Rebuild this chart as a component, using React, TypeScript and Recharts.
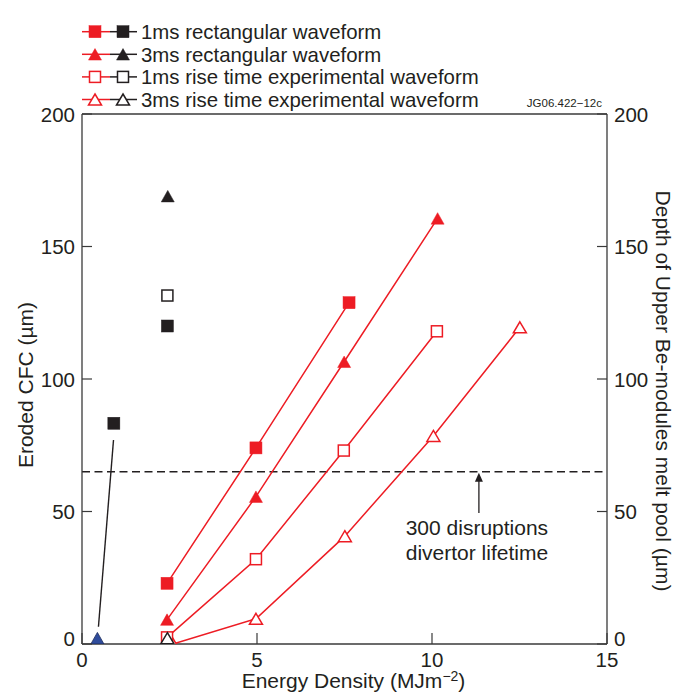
import React from "react";
import {
  ComposedChart,
  Scatter,
  XAxis,
  YAxis,
  ReferenceLine,
} from "recharts";

const RED = "#ed1c24";
const INK = "#231f20";
const BLUE = "#2f4c9c";
const AXIS = "#3a3a3a";
const FONT = '"Liberation Sans", Arial, Helvetica, sans-serif';

// energy density (MJ/m2) vs eroded CFC (um)
const rect1ms = [
  { x: 2.43, y: 22.9 },
  { x: 4.97, y: 74 },
  { x: 7.63, y: 128.8 },
];
const rect3ms = [
  { x: 2.43, y: 9.2 },
  { x: 4.97, y: 55.6 },
  { x: 7.49, y: 106.5 },
  { x: 10.16, y: 160.6 },
];
const rise1ms = [
  { x: 2.43, y: 2.5 },
  { x: 4.97, y: 32 },
  { x: 7.48, y: 73 },
  { x: 10.14, y: 118 },
];
const rise3ms = [
  { x: 2.6, y: 0 },
  { x: 4.97, y: 9.5 },
  { x: 7.51, y: 40.7 },
  { x: 10.04, y: 78.5 },
  { x: 12.51, y: 119.5 },
];

// black / blue reference points
const blackSquares = [
  { x: 0.91, y: 83.3 },
  { x: 2.44, y: 120 },
];
const blackOpenSquares = [{ x: 2.44, y: 131.5 }];
const blackTriangles = [{ x: 2.45, y: 169 }];
const blackOpenTriangles = [{ x: 2.44, y: 2.2 }];
const blueTriangles = [{ x: 0.44, y: 2.2 }];
const connector = [
  { x: 0.47, y: 6.5 },
  { x: 0.9, y: 77 },
];

const LIFETIME = 65;
const arrowSeg = [
  { x: 11.34, y: 49.4 },
  { x: 11.34, y: LIFETIME },
];

const xTicks = [0, 5, 10, 15];
const yTicks = [0, 50, 100, 150, 200];

const legendLabels = [
  "1ms rectangular waveform",
  "3ms rectangular waveform",
  "1ms rise time experimental waveform",
  "3ms rise time experimental waveform",
];
const legendKinds = ["square", "triangle", "openSquare", "openTriangle"];

const TICK_GAP = 7;
const TICK_LEN = 10;
const TICK_FONT = 20.5;
const TITLE_FONT = 21;

const marker = (kind: string, cx: number, cy: number, color: string, key?: string) => {
  const open = kind.startsWith("open");
  const fill = open ? "#fff" : color;
  if (kind.toLowerCase().includes("square")) {
    const s = open ? 11 : 12;
    return (
      <rect
        key={key}
        x={cx - s / 2}
        y={cy - s / 2}
        width={s}
        height={s}
        fill={fill}
        stroke={color}
        strokeWidth={open ? 1.5 : 0.5}
      />
    );
  }
  const h = open ? 11 : 11.5;
  const w = 6.5;
  return (
    <polygon
      key={key}
      points={`${cx},${cy - h / 2} ${cx + w},${cy + h / 2} ${cx - w},${cy + h / 2}`}
      fill={fill}
      stroke={color}
      strokeWidth={open ? 1.5 : 0.5}
    />
  );
};

const shapeOf = (kind: string, color: string, outline?: string) => (p: any) => {
  if (p.cx == null || p.cy == null) return <g />;
  if (outline) {
    const h = 11.5;
    const w = 6.5;
    return (
      <polygon
        points={`${p.cx},${p.cy - h / 2} ${p.cx + w},${p.cy + h / 2} ${p.cx - w},${p.cy + h / 2}`}
        fill={color}
        stroke={outline}
        strokeWidth={0.8}
      />
    );
  }
  return marker(kind, p.cx, p.cy, color);
};

// zero labels sit a little above the baseline in the original
const labelY = (y: number, v: number) => (v === 0 ? y - 6 : y);

const LeftTick = (props: any) => {
  const { x, y, payload } = props;
  const ax = x + TICK_GAP;
  return (
    <g>
      <line x1={ax} x2={ax + TICK_LEN} y1={y} y2={y} stroke={AXIS} strokeWidth={1.2} />
      <text x={x} y={labelY(y, payload.value)} textAnchor="end" dominantBaseline="central" fontSize={TICK_FONT} fill={INK} fontFamily={FONT}>
        {payload.value}
      </text>
    </g>
  );
};

const RightTick = (props: any) => {
  const { x, y, payload } = props;
  const ax = x - TICK_GAP;
  return (
    <g>
      <line x1={ax} x2={ax - TICK_LEN} y1={y} y2={y} stroke={AXIS} strokeWidth={1.2} />
      <text x={x} y={labelY(y, payload.value)} textAnchor="start" dominantBaseline="central" fontSize={TICK_FONT} fill={INK} fontFamily={FONT}>
        {payload.value}
      </text>
    </g>
  );
};

const BottomTick = (props: any) => {
  const { x, y, payload } = props;
  const ay = y - 8;
  return (
    <g>
      <line x1={x} x2={x} y1={ay} y2={ay - 11} stroke={AXIS} strokeWidth={1.2} />
      <text x={x} y={y + 15} textAnchor="middle" fontSize={TICK_FONT} fill={INK} fontFamily={FONT}>
        {payload.value}
      </text>
    </g>
  );
};

const XTitle = (props: any) => {
  const vb = props.viewBox || {};
  const cx = vb.x + vb.width / 2 + 9;
  return (
    <text x={cx} y={vb.y + 44} textAnchor="middle" fontSize={TITLE_FONT} fill={INK} fontFamily={FONT}>
      Energy Density (MJm
      <tspan dy={-7} fontSize={14}>−2</tspan>
      <tspan dy={7}>)</tspan>
    </text>
  );
};

const LeftTitle = (props: any) => {
  const vb = props.viewBox || {};
  const cx = 25;
  const cy = vb.y + vb.height / 2 + 6;
  return (
    <text
      x={cx}
      y={cy}
      transform={`rotate(-90 ${cx} ${cy})`}
      textAnchor="middle"
      dominantBaseline="central"
      fontSize={TITLE_FONT}
      fill={INK}
      fontFamily={FONT}
    >
      Eroded CFC (µm)
    </text>
  );
};

const RightTitle = (props: any) => {
  const vb = props.viewBox || {};
  const cx = 663;
  const cy = vb.y + vb.height / 2 + 12;
  return (
    <text
      x={cx}
      y={cy}
      transform={`rotate(90 ${cx} ${cy})`}
      textAnchor="middle"
      dominantBaseline="central"
      fontSize={TITLE_FONT}
      fill={INK}
      fontFamily={FONT}
    >
      Depth of Upper Be-modules melt pool (µm)
    </text>
  );
};

const Arrow = (p: any) => {
  const { x1, y1, x2, y2 } = p;
  const top = Math.min(y1, y2);
  const bottom = Math.max(y1, y2);
  const x = x1;
  return (
    <g>
      <line x1={x} x2={x2} y1={bottom} y2={top + 7} stroke={INK} strokeWidth={1.3} />
      <polygon points={`${x},${top + 1} ${x + 4},${top + 10} ${x - 4},${top + 10}`} fill={INK} />
      <text x={x - 2} y={bottom + 22} textAnchor="middle" fontSize={TITLE_FONT} fill={INK} fontFamily={FONT}>
        300 disruptions
      </text>
      <text x={x - 2} y={bottom + 47} textAnchor="middle" fontSize={TITLE_FONT} fill={INK} fontFamily={FONT}>
        divertor lifetime
      </text>
    </g>
  );
};

const TagLabel = (props: any) => {
  const vb = props.viewBox || {};
  return (
    <text x={vb.x + vb.width - 5} y={vb.y - 7} textAnchor="end" fontSize={11.5} fill={INK} fontFamily={FONT}>
      JG06.422−12c
    </text>
  );
};

const LegendBox = () => (
  <svg width={560} height={112} style={{ position: "absolute", left: 0, top: 0 }}>
    {legendLabels.map((label, i) => {
      const cy = 31.7 + i * 22.6;
      const kind = legendKinds[i];
      return (
        <g key={label}>
          <line x1={82} x2={110} y1={cy} y2={cy} stroke={RED} strokeWidth={1.5} />
          {marker(kind, 95, cy, RED)}
          <line x1={110} x2={137} y1={cy} y2={cy} stroke={INK} strokeWidth={1.5} />
          {marker(kind, 123, cy, INK)}
          <text x={141} y={cy + 7.2} fontSize={20.4} fill={INK} fontFamily={FONT}>
            {label}
          </text>
        </g>
      );
    })}
  </svg>
);

const redLine = { stroke: RED, strokeWidth: 1.5 };

export default function App() {
  return (
    <div style={{ position: "absolute", left: 0, top: 0, width: 686, height: 696, background: "#fff" }}>
      <ComposedChart
        width={686}
        height={696}
        margin={{ top: 114, right: 19, bottom: 0, left: 22 }}
      >
        <XAxis
          dataKey="x"
          type="number"
          domain={[0, 15]}
          ticks={xTicks}
          tickSize={0}
          tickMargin={8}
          tick={<BottomTick />}
          tickLine={false}
          height={52}
          axisLine={{ stroke: AXIS, strokeWidth: 1.3 }}
          allowDataOverflow
          label={{ content: <XTitle /> }}
        />
        <YAxis
          yAxisId="left"
          dataKey="y"
          type="number"
          domain={[0, 200]}
          ticks={yTicks}
          tickSize={0}
          tickMargin={TICK_GAP}
          tick={<LeftTick />}
          tickLine={false}
          width={60}
          axisLine={{ stroke: AXIS, strokeWidth: 1.3 }}
          allowDataOverflow
          label={{ content: <LeftTitle /> }}
        />
        <YAxis
          yAxisId="right"
          orientation="right"
          type="number"
          domain={[0, 200]}
          ticks={yTicks}
          tickSize={0}
          tickMargin={TICK_GAP}
          tick={<RightTick />}
          tickLine={false}
          width={60}
          axisLine={{ stroke: AXIS, strokeWidth: 1.3 }}
          allowDataOverflow
          label={{ content: <RightTitle /> }}
        />
        <ReferenceLine yAxisId="left" y={200} stroke={AXIS} strokeWidth={1.3} label={{ content: <TagLabel /> }} />
        <ReferenceLine
          yAxisId="left"
          y={LIFETIME}
          stroke={INK}
          strokeWidth={1.6}
          strokeDasharray="8 4.5"
        />
        <ReferenceLine yAxisId="left" segment={connector} stroke={INK} strokeWidth={1.4} />
        <ReferenceLine yAxisId="left" segment={arrowSeg} shape={<Arrow />} />

        <Scatter yAxisId="left" data={rise3ms} line={redLine} lineType="joint" shape={shapeOf("openTriangle", RED)} isAnimationActive={false} />
        <Scatter yAxisId="left" data={rise1ms} line={redLine} lineType="joint" shape={shapeOf("openSquare", RED)} isAnimationActive={false} />
        <Scatter yAxisId="left" data={rect3ms} line={redLine} lineType="joint" shape={shapeOf("triangle", RED)} isAnimationActive={false} />
        <Scatter yAxisId="left" data={rect1ms} line={redLine} lineType="joint" shape={shapeOf("square", RED)} isAnimationActive={false} />

        <Scatter yAxisId="left" data={blackSquares} shape={shapeOf("square", INK)} isAnimationActive={false} />
        <Scatter yAxisId="left" data={blackOpenSquares} shape={shapeOf("openSquare", INK)} isAnimationActive={false} />
        <Scatter yAxisId="left" data={blackTriangles} shape={shapeOf("triangle", INK)} isAnimationActive={false} />
        <Scatter yAxisId="left" data={blackOpenTriangles} shape={shapeOf("openTriangle", INK)} isAnimationActive={false} />
        <Scatter yAxisId="left" data={blueTriangles} shape={shapeOf("triangle", BLUE, "#1c2b5a")} isAnimationActive={false} />
      </ComposedChart>
      <LegendBox />
    </div>
  );
}
